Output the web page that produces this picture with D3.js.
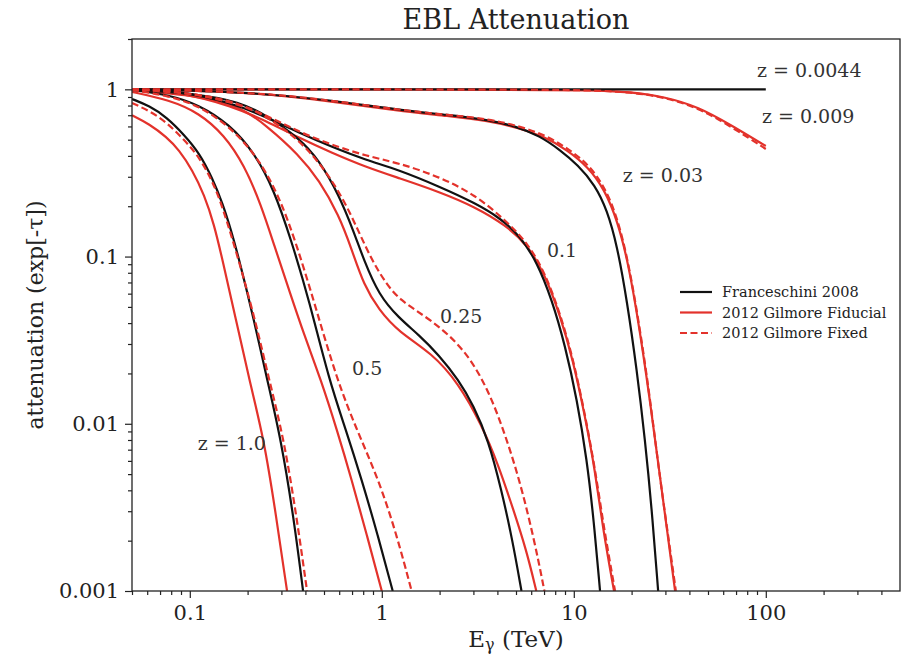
<!DOCTYPE html>
<html>
<head>
<meta charset="utf-8">
<script src="https://cdn.jsdelivr.net/npm/d3@7"></script>
<style>
body { margin: 0; background: #fff; }
text { font-family: "DejaVu Serif", serif; }
</style>
</head>
<body>
<svg id="chart" width="901" height="656"></svg>
<script>
// ---- data: [energy TeV, attenuation] ----
const franceschini_z0044 = [[0.05,1.0],[100,1.0]];

const fiducial_z009 = [[0.05,1.0],[5,0.998],[12,0.99],[19.9,0.965],[29.9,0.90],[44.6,0.785],[65.8,0.612],[100,0.458]];
const fixed_z009    = [[0.05,1.0],[5,0.998],[12,0.99],[19.9,0.962],[29.9,0.895],[44.6,0.775],[65.8,0.60],[100,0.44]];

const franceschini_z003 = [[0.05,1.0],[0.204,0.965],[0.531,0.864],[1.225,0.753],[2.23,0.703],[3.59,0.656],[4.94,0.604],[6.67,0.526],[8.47,0.434],[10.5,0.353],[12.9,0.268],[14.9,0.19],[16.8,0.117],[18.9,0.055],[21.3,0.021],[23.5,0.008],[25.5,0.00305],[27.5,0.001]];
const fiducial_z003 = [[0.05,1.0],[0.204,0.965],[0.531,0.852],[1.225,0.743],[2.23,0.693],[3.59,0.647],[5.15,0.588],[7.08,0.519],[9.22,0.434],[11.9,0.343],[14.5,0.25],[16.8,0.166],[19.2,0.0929],[22.1,0.036],[24.9,0.0139],[27.8,0.0053],[30.6,0.00232],[33.7,0.001]];
const fixed_z003    = [[0.05,1.0],[0.204,0.965],[0.531,0.864],[1.225,0.753],[2.23,0.703],[3.59,0.665],[5.15,0.604],[7.08,0.534],[9.22,0.446],[11.9,0.358],[14.5,0.26],[16.8,0.173],[19.2,0.0945],[22.1,0.0372],[24.9,0.0144],[27.8,0.0052],[30.6,0.00238],[34.0,0.001]];

const franceschini_z01 = [[0.05,1.0],[0.0882,0.978],[0.166,0.829],[0.249,0.684],[0.371,0.549],[0.550,0.452],[0.826,0.378],[1.225,0.330],[2.01,0.261],[3.06,0.209],[4.13,0.170],[5.25,0.133],[6.43,0.0929],[7.70,0.055],[9.0,0.0296],[10.4,0.0139],[11.7,0.0061],[12.7,0.00266],[13.7,0.001]];
const fiducial_z01 = [[0.05,1.0],[0.0882,0.965],[0.166,0.796],[0.249,0.647],[0.371,0.512],[0.550,0.417],[0.826,0.343],[1.225,0.295],[2.01,0.243],[3.06,0.198],[4.38,0.155],[5.77,0.117],[7.08,0.0778],[8.47,0.0448],[9.9,0.0241],[11.4,0.0113],[12.9,0.0053],[14.2,0.00232],[16.2,0.001]];
const fixed_z01    = [[0.05,1.0],[0.0882,0.978],[0.166,0.841],[0.249,0.703],[0.371,0.556],[0.550,0.465],[0.826,0.400],[1.225,0.363],[2.01,0.299],[3.06,0.234],[4.38,0.166],[5.77,0.12],[7.08,0.0798],[8.47,0.046],[9.9,0.0247],[11.4,0.0116],[12.9,0.0054],[14.4,0.00232],[16.4,0.001]];

const franceschini_z025 = [[0.05,1.0],[0.112,0.939],[0.181,0.841],[0.249,0.703],[0.371,0.512],[0.471,0.378],[0.598,0.234],[0.716,0.140],[0.806,0.0955],[0.965,0.0589],[1.225,0.043],[1.56,0.034],[1.98,0.0258],[2.51,0.0183],[3.0,0.0129],[3.59,0.008],[4.2,0.00402],[4.79,0.00202],[5.34,0.001]];
const fiducial_z025 = [[0.05,0.992],[0.112,0.913],[0.181,0.796],[0.249,0.612],[0.371,0.405],[0.471,0.287],[0.598,0.177],[0.698,0.110],[0.806,0.0676],[0.965,0.048],[1.225,0.0354],[1.82,0.0265],[2.51,0.0175],[3.31,0.00986],[4.05,0.00567],[4.85,0.00305],[5.66,0.00176],[6.38,0.001]];
const fixed_z025    = [[0.05,1.0],[0.112,0.939],[0.181,0.829],[0.259,0.674],[0.371,0.498],[0.50,0.338],[0.635,0.218],[0.760,0.140],[0.887,0.0955],[1.024,0.0725],[1.225,0.055],[1.82,0.0418],[2.73,0.0277],[3.59,0.0159],[4.30,0.0092],[5.03,0.0053],[5.80,0.00285],[6.54,0.00153],[7.03,0.001]];

const franceschini_z05 = [[0.05,0.992],[0.0783,0.926],[0.112,0.807],[0.160,0.621],[0.216,0.422],[0.275,0.25],[0.337,0.126],[0.418,0.055],[0.531,0.0183],[0.650,0.0092],[0.787,0.0046],[0.953,0.00216],[1.14,0.001]];
const fiducial_z05 = [[0.05,0.965],[0.0783,0.864],[0.112,0.722],[0.151,0.534],[0.192,0.353],[0.235,0.204],[0.275,0.117],[0.329,0.063],[0.394,0.034],[0.482,0.0183],[0.584,0.0092],[0.698,0.0046],[0.836,0.00216],[1.0,0.001]];
const fixed_z05    = [[0.05,0.992],[0.0783,0.913],[0.112,0.796],[0.160,0.604],[0.224,0.400],[0.292,0.230],[0.362,0.116],[0.449,0.0513],[0.584,0.0183],[0.741,0.0092],[0.965,0.0046],[1.197,0.00216],[1.43,0.001]];

const franceschini_z1 = [[0.05,0.876],[0.0616,0.796],[0.0755,0.684],[0.0936,0.534],[0.112,0.417],[0.131,0.295],[0.148,0.209],[0.164,0.144],[0.181,0.0955],[0.216,0.0418],[0.253,0.0183],[0.299,0.008],[0.349,0.00266],[0.389,0.001]];
const fiducial_z1 = [[0.05,0.70],[0.0616,0.62],[0.0755,0.52],[0.088,0.434],[0.103,0.33],[0.119,0.234],[0.134,0.155],[0.148,0.0955],[0.174,0.042],[0.204,0.0183],[0.244,0.008],[0.281,0.00285],[0.321,0.001]];
const fixed_z1    = [[0.05,0.829],[0.0616,0.743],[0.0755,0.638],[0.0936,0.498],[0.112,0.394],[0.131,0.283],[0.148,0.200],[0.181,0.0929],[0.219,0.0418],[0.259,0.0183],[0.310,0.008],[0.362,0.00266],[0.408,0.001]];

// curve labels: text, energy, attenuation (baseline-left anchor)
const labelTexts  = ['z = 0.0044', 'z = 0.009', 'z = 0.03', '0.1', '0.25', '0.5', 'z = 1.0'];
const labelEnergy = [90, 95.5, 18.0, 7.25, 2.01, 0.70, 0.110];
const labelAtten  = [1.186, 0.63, 0.279, 0.0995, 0.040, 0.0196, 0.00697];

const xMajor = [0.1, 1, 10, 100];
const xTickLabels = ['0.1', '1', '10', '100'];
const xMinor = [0.05,0.06,0.07,0.08,0.09,0.2,0.3,0.4,0.5,0.6,0.7,0.8,0.9,2,3,4,5,6,7,8,9,20,30,40,50,60,70,80,90,200,300,400];
const yMajor = [0.001, 0.01, 0.1, 1];
const yTickLabels = ['0.001', '0.01', '0.1', '1'];
const yMinor = [0.002,0.003,0.004,0.005,0.006,0.007,0.008,0.009,0.02,0.03,0.04,0.05,0.06,0.07,0.08,0.09,0.2,0.3,0.4,0.5,0.6,0.7,0.8,0.9,2];

const legendLabels = ['Franceschini 2008', '2012 Gilmore Fiducial', '2012 Gilmore Fixed'];

const RED = '#e3322b';
const BLACK = '#111';

const svg = d3.select('#chart');
const plotL = 132, plotR = 900, plotT = 39, plotB = 591;

const x = d3.scaleLog().domain([0.05, 500]).range([plotL, plotR]);
const y = d3.scaleLog().domain([0.001, 2]).range([plotB, plotT]);

// clip the curves to the axes box
svg.append('defs').append('clipPath').attr('id', 'plotclip')
    .append('rect')
    .attr('x', plotL).attr('y', plotT)
    .attr('width', plotR - plotL).attr('height', plotB - plotT);

const line = d3.line()
    .x(d => x(d[0]))
    .y(d => y(d[1]))
    .curve(d3.curveBasis);

const curves = svg.append('g').attr('clip-path', 'url(#plotclip)');

// draw order: fiducial (red solid), Franceschini (black), fixed (red dashed)
const fiducialSet = [fiducial_z009, fiducial_z003, fiducial_z01, fiducial_z025, fiducial_z05, fiducial_z1];
const franceschiniSet = [franceschini_z0044, franceschini_z003, franceschini_z01, franceschini_z025, franceschini_z05, franceschini_z1];
const fixedSet = [fixed_z009, fixed_z003, fixed_z01, fixed_z025, fixed_z05, fixed_z1];

curves.selectAll('.fid').data(fiducialSet).enter().append('path')
    .attr('class', 'fid')
    .attr('d', line)
    .attr('fill', 'none')
    .attr('stroke', RED)
    .attr('stroke-width', 2.2);

curves.selectAll('.fra').data(franceschiniSet).enter().append('path')
    .attr('class', 'fra')
    .attr('d', line)
    .attr('fill', 'none')
    .attr('stroke', BLACK)
    .attr('stroke-width', 2.2);

curves.selectAll('.fix').data(fixedSet).enter().append('path')
    .attr('class', 'fix')
    .attr('d', line)
    .attr('fill', 'none')
    .attr('stroke', RED)
    .attr('stroke-width', 2.2)
    .attr('stroke-dasharray', '7,3.5');

// axes
const xAxisMinor = d3.axisBottom(x).tickValues(xMinor).tickFormat('').tickSize(4);
const xAxisMajor = d3.axisBottom(x).tickValues(xMajor).tickFormat((d, i) => xTickLabels[i]).tickSize(7).tickPadding(7);
const yAxisMinor = d3.axisLeft(y).tickValues(yMinor).tickFormat('').tickSize(4);
const yAxisMajor = d3.axisLeft(y).tickValues(yMajor).tickFormat((d, i) => yTickLabels[i]).tickSize(7).tickPadding(6);

function styleAxis(g) {
    g.select('.domain').remove();
    g.selectAll('line').attr('stroke', '#222').attr('stroke-width', 1.2);
    g.selectAll('text').style('font-size', '21px').attr('fill', '#222');
}

svg.append('g').attr('transform', `translate(0,${plotB})`).call(xAxisMinor).call(styleAxis);
svg.append('g').attr('transform', `translate(0,${plotB})`).call(xAxisMajor).call(styleAxis);
svg.append('g').attr('transform', `translate(${plotL},0)`).call(yAxisMinor).call(styleAxis);
svg.append('g').attr('transform', `translate(${plotL},0)`).call(yAxisMajor).call(styleAxis);

// frame
svg.append('rect')
    .attr('x', plotL).attr('y', plotT)
    .attr('width', plotR - plotL).attr('height', plotB - plotT)
    .attr('fill', 'none')
    .attr('stroke', '#222')
    .attr('stroke-width', 1.3);

// curve labels
svg.append('g').selectAll('text')
    .data(labelTexts)
    .enter().append('text')
    .attr('x', (d, i) => x(labelEnergy[i]))
    .attr('y', (d, i) => y(labelAtten[i]))
    .text(d => d)
    .style('font-size', '19px')
    .attr('fill', '#333');

// title and axis labels
svg.append('text')
    .attr('x', (plotL + plotR) / 2).attr('y', 29)
    .attr('text-anchor', 'middle')
    .style('font-size', '27px')
    .attr('fill', '#222')
    .text('EBL Attenuation');

const xl = svg.append('text')
    .attr('x', (plotL + plotR) / 2).attr('y', 647)
    .attr('text-anchor', 'middle')
    .style('font-size', '23px')
    .attr('fill', '#222');
xl.append('tspan').text('E');
xl.append('tspan').attr('dy', 3).style('font-size', '16px').text('γ');
xl.append('tspan').attr('dy', -3).text(' (TeV)');

svg.append('text')
    .attr('transform', `translate(43,${(plotT + plotB) / 2}) rotate(-90)`)
    .attr('text-anchor', 'middle')
    .style('font-size', '22px')
    .attr('fill', '#222')
    .text('attenuation (exp[-τ])');

// legend
const legend = svg.append('g')
    .attr('class', 'legend')
    .attr('transform', 'translate(680, 292)');

const legendItems = legend.selectAll('.legend-item')
    .data(legendLabels)
    .enter().append('g')
    .attr('class', 'legend-item')
    .attr('transform', (d, i) => `translate(0, ${i * 20.5})`);

legendItems.append('line')
    .attr('x1', 0).attr('x2', 32)
    .attr('y1', 0).attr('y2', 0)
    .attr('stroke', (d, i) => i === 0 ? BLACK : RED)
    .attr('stroke-width', 2.2)
    .attr('stroke-dasharray', (d, i) => i === 2 ? '7,3.5' : null);

legendItems.append('text')
    .attr('x', 42)
    .attr('y', 0)
    .attr('dy', '0.35em')
    .text(d => d)
    .style('font-size', '14.5px')
    .attr('fill', '#222');
</script>
</body>
</html>
